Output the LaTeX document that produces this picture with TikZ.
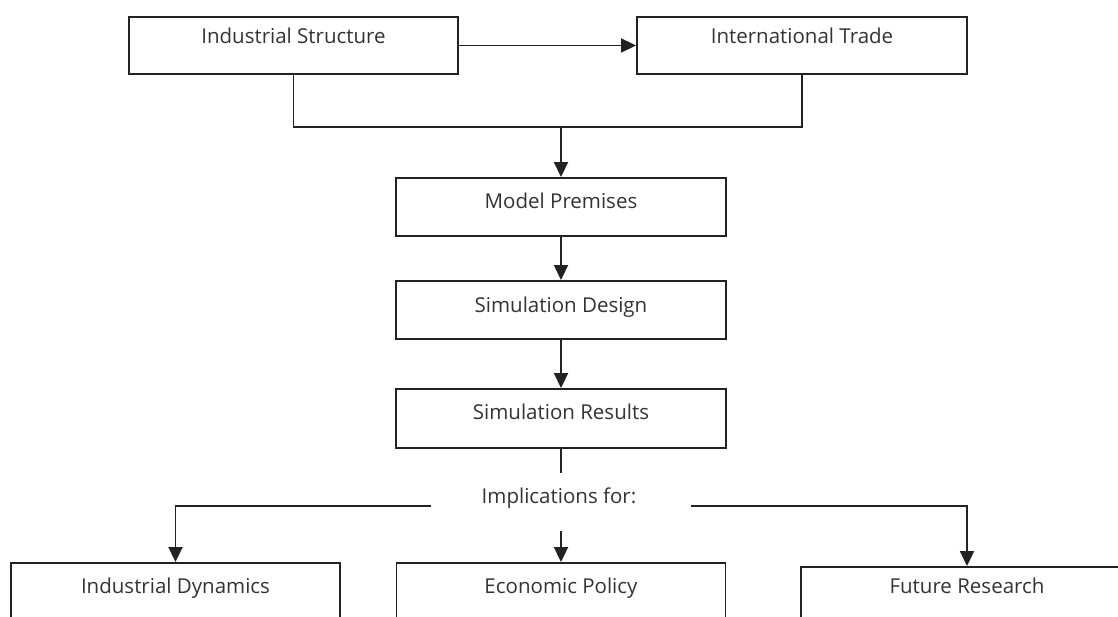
\documentclass[tikz,border=0pt]{standalone}
\usepackage{fontspec}
\setmainfont{Open Sans}
\usetikzlibrary{arrows.meta}
\definecolor{txt}{HTML}{333333}
\definecolor{ln}{HTML}{222222}
\tikzset{
  stepbox/.style={draw=ln, line width=1.9pt, minimum width=330pt, minimum height=58pt,
    inner sep=0pt, text=txt, font=\fontsize{20.5}{24}\selectfont,
    text height=14.5pt, text depth=#1},
  stepbox/.default=12pt,
  conn/.style={draw=ln, line width=1.9pt},
  arr/.style={conn, -{Triangle[length=15pt,width=14pt]}},
  lbl/.style={text=txt, font=\fontsize{20.5}{24}\selectfont, inner sep=0pt}
}
\begin{document}
\begin{tikzpicture}[x=1pt,y=-1pt]
\useasboundingbox (0,0) rectangle (1118,617);
\clip (0,0) rectangle (1118,617);
% top row
\node[stepbox=18pt, minimum width=329pt, minimum height=57pt] (IS) at (293.5,45.5) {Industrial Structure};
\node[stepbox=18pt, minimum height=57pt] (IT) at (802,45.5) {International Trade};
% chain
\node[stepbox=11pt] (MP) at (561,207) {Model Premises};
\node[stepbox=10pt] (SD) at (561,310) {Simulation Design};
\node[stepbox=13pt, minimum height=59pt] (SR) at (561,418.5) {Simulation Results};
\node[lbl] (IM) at (559,498) {Implications for:};
% bottom row
\node[stepbox=13pt, minimum width=329pt, minimum height=59pt] (ID) at (175.5,592.5) {Industrial Dynamics};
\node[stepbox=13pt, minimum width=329pt, minimum height=59pt] (EP) at (561,592.5) {Economic Policy};
\node[stepbox=21pt, minimum width=332pt, minimum height=59pt] (FR) at (967,596.5) {Future Research};
% coordinates
\coordinate (jl) at (293.5,127);
\coordinate (jr) at (802,127);
\coordinate (jm) at (561,127);
\coordinate (se) at (561,473);
\coordinate (hl) at (431,506);
\coordinate (hr) at (691,506);
\coordinate (cm) at (561,531);
% connectors
\draw[arr] (IS) -- (IT);
\draw[conn] (IS.south) -- (jl) -- (jr) -- (IT.south);
\draw[arr] (jm) -- (MP.north);
\draw[arr] (MP) -- (SD);
\draw[arr] (SD) -- (SR);
\draw[conn] (SR.south) -- (se);
\draw[arr] (hl) -| (ID.north);
\draw[arr] (hr) -| (FR.north);
\draw[arr] (cm) -- (EP.north);
\end{tikzpicture}
\end{document}
